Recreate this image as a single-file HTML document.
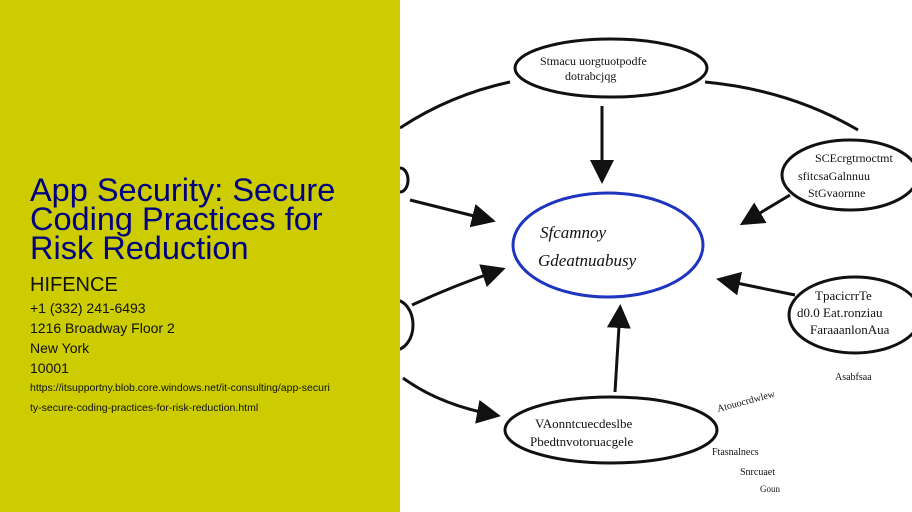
<!DOCTYPE html>
<html><head><style>
body{margin:0;width:912px;height:512px;overflow:hidden;background:#fff;font-family:"Liberation Sans",sans-serif;position:relative}
#l{position:absolute;left:0;top:0;width:400px;height:512px;background:#cccc00;z-index:2}
.t{position:absolute;left:30px;top:176px;font-size:32.5px;line-height:29px;color:#000080;width:320px}
.s{position:absolute;left:30px;color:#111}
</style></head><body>
<div id="l">
<div class="t">App Security: Secure Coding Practices for Risk Reduction</div>
<div class="s" style="top:274px;font-size:20px">HIFENCE</div>
<div class="s" style="top:300px;font-size:14px">+1 (332) 241-6493</div>
<div class="s" style="top:320px;font-size:14px">1216 Broadway Floor 2</div>
<div class="s" style="top:340px;font-size:14px">New York</div>
<div class="s" style="top:360px;font-size:14px">10001</div>
<div class="s" style="top:382px;font-size:10.5px">https://itsupportny.blob.core.windows.net/it-consulting/app-securi</div>
<div class="s" style="top:402px;font-size:10.5px">ty-secure-coding-practices-for-risk-reduction.html</div>
</div>
<svg style="position:absolute;left:0;top:0" width="912" height="512">
<defs><marker id="a" markerWidth="8" markerHeight="8" refX="6" refY="4" orient="auto"><path d="M0,0 L8,4 L0,8 z" fill="#111"/></marker></defs>
<g fill="none" stroke="#111" stroke-width="3">
<ellipse cx="611" cy="68" rx="96" ry="29"/>
<ellipse cx="850" cy="175" rx="68" ry="35"/>
<ellipse cx="855" cy="315" rx="66" ry="38"/>
<ellipse cx="611" cy="430" rx="106" ry="33"/>
<ellipse cx="395" cy="325" rx="18" ry="25"/>
<ellipse cx="400" cy="180" rx="8" ry="12"/>
<ellipse cx="608" cy="245" rx="95" ry="52" stroke="#1f35c0"/>
<path d="M602 106 L602 178" marker-end="url(#a)"/>
<path d="M410 200 Q450 210 490 220" marker-end="url(#a)"/>
<path d="M412 305 Q455 285 500 270" marker-end="url(#a)"/>
<path d="M790 195 L745 222" marker-end="url(#a)"/>
<path d="M795 295 L722 280" marker-end="url(#a)"/>
<path d="M615 392 L620 310" marker-end="url(#a)"/>
<path d="M403 378 Q440 405 495 415" marker-end="url(#a)"/>
<path d="M400 128 Q450 95 510 82"/>
<path d="M705 82 Q790 90 858 130"/>
</g>
<g font-family="Liberation Serif,serif" fill="#111">
<text x="540" y="65" font-size="12">Stmacu uorgtuotpodfe</text>
<text x="565" y="80" font-size="12">dotrabcjqg</text>
<text x="540" y="238" font-size="17" font-style="italic">Sfcamnoy</text>
<text x="538" y="266" font-size="17" font-style="italic">Gdeatnuabusy</text>
<text x="815" y="162" font-size="12">SCEcrgtrnoctmt</text>
<text x="798" y="180" font-size="12">sfitcsaGalnnuu</text>
<text x="808" y="197" font-size="12">StGvaornne</text>
<text x="815" y="300" font-size="13">TpacicrrTe</text>
<text x="797" y="317" font-size="13">d0.0 Eat.ronziau</text>
<text x="810" y="334" font-size="13">FaraaanlonAua</text>
<text x="535" y="428" font-size="13">VAonntcuecdeslbe</text>
<text x="530" y="446" font-size="13">Pbedtnvotoruacgele</text>
<text x="718" y="412" font-size="10" transform="rotate(-15 718 412)">Atouocrdwlew</text>
<text x="712" y="455" font-size="10">Ftasnalnecs</text>
<text x="740" y="475" font-size="10">Snrcuaet</text>
<text x="760" y="492" font-size="9">Goun</text>
<text x="835" y="380" font-size="10">Asabfsaa</text>
</g>
</svg>
</body></html>
